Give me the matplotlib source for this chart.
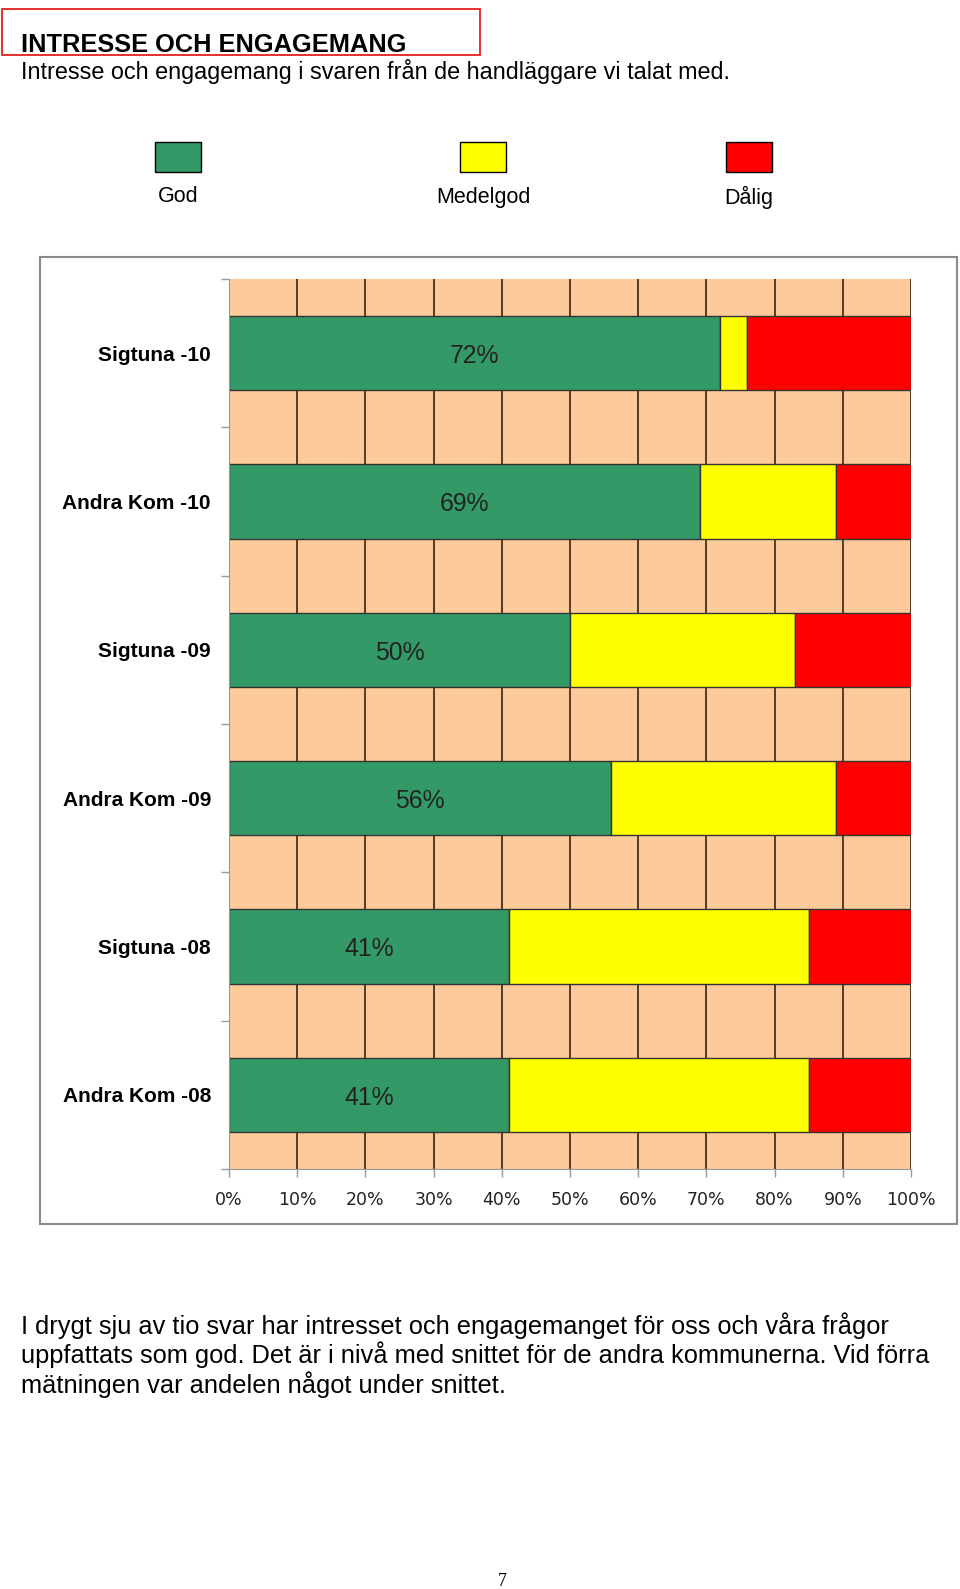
import numpy as np
import matplotlib.pyplot as plt
from matplotlib.patches import Rectangle

# Données du graphique (en %)
kategorier = ['Sigtuna -10', 'Andra Kom -10', 'Sigtuna -09',
              'Andra Kom -09', 'Sigtuna -08', 'Andra Kom -08']
god = [72, 69, 50, 56, 41, 41]
medelgod = [4, 20, 33, 33, 44, 44]
dalig = [24, 11, 17, 11, 15, 15]
serier = ['God', 'Medelgod', 'Dålig']
farger = ['#339966', '#FFFF00', '#FF0000']
xticks = np.arange(0, 101, 10)

W, H = 960, 1589
fig = plt.figure(figsize=(W / 100, H / 100), dpi=100)


def fx(x):
    return x / W


def fy(y):
    return 1 - y / H


sans = ['Liberation Sans', 'DejaVu Sans']
smal = ['Liberation Sans Narrow', 'DejaVu Sans']

# Rubrik
fig.add_artist(Rectangle((fx(2), fy(55)), fx(478), (55 - 9) / H, transform=fig.transFigure,
                         fill=False, edgecolor='#E02020', linewidth=1.3))
fig.text(fx(21), fy(52), 'INTRESSE OCH ENGAGEMANG', family=sans, fontsize=18.3,
         fontweight='bold', va='baseline')
fig.text(fx(21), fy(79), 'Intresse och engagemang i svaren från de handläggare vi talat med.',
         family=sans, fontsize=16.8, va='baseline')

# Förklaring
leg_x = [178, 483, 749]
for namn, farg, cx in zip(serier, farger, leg_x):
    fig.add_artist(Rectangle((fx(cx - 23), fy(172)), 46 / W, 30 / H, transform=fig.transFigure,
                             facecolor=farg, edgecolor='black', linewidth=1))
    fig.text(fx(cx), fy(197), namn, family=sans, fontsize=15.5, ha='center', va='center')

# Ram runt diagrammet
fig.add_artist(Rectangle((fx(40), fy(1224)), 917 / W, (1224 - 257) / H, transform=fig.transFigure,
                         fill=False, edgecolor='#8a8a8a', linewidth=1.5))

# Diagram
ax = fig.add_axes([fx(229), fy(1169), 682 / W, 890 / H])
ax.set_facecolor('#FCCB99')
y = np.arange(len(kategorier))
god = np.array(god)
medelgod = np.array(medelgod)
dalig = np.array(dalig)
for xv in xticks[1:]:
    ax.axvline(xv, color='#4a3020', linewidth=1.3, zorder=1)
ax.barh(y, god, height=0.5, color=farger[0], edgecolor='#333333', linewidth=1, zorder=2)
ax.barh(y, medelgod, left=god, height=0.5, color=farger[1], edgecolor='#333333', linewidth=1, zorder=2)
ax.barh(y, dalig, left=god + medelgod, height=0.5, color=farger[2], edgecolor='#333333', linewidth=1, zorder=2)
for yi, g in zip(y, god):
    ax.text(g / 2, yi + 0.02, f'{g}%', family=sans, fontsize=17.8, color='#222222',
            ha='center', va='center', zorder=3)

ax.set_xlim(0, 100)
ax.set_ylim(len(kategorier) - 0.5, -0.5)
ax.set_xticks(xticks)
ax.set_xticklabels([f'{v}%' for v in xticks], family=smal, fontsize=12.5, color='#222222')
ax.set_yticks(y)
ax.set_yticklabels(kategorier, family=sans, fontsize=15, fontweight='bold')
ax.set_yticks(np.arange(-0.5, len(kategorier)), minor=True)
ax.tick_params(axis='y', which='major', length=0, pad=13)
ax.tick_params(axis='y', which='minor', length=6, color='#999999', width=1)
ax.tick_params(axis='x', length=6, color='#999999', width=1, pad=10)
for s in ['top', 'right']:
    ax.spines[s].set_visible(False)
ax.spines['left'].set_color('#999999')
ax.spines['bottom'].set_color('#999999')

# Brödtext
rader = ['I drygt sju av tio svar har intresset och engagemanget för oss och våra frågor',
         'uppfattats som god. Det är i nivå med snittet för de andra kommunerna. Vid förra',
         'mätningen var andelen något under snittet.']
for i, rad in enumerate(rader):
    fig.text(fx(21), fy(1334 + i * 29.5), rad, family=sans, fontsize=18.3, va='baseline')

fig.text(fx(502), fy(1581), '7', family=['Liberation Serif', 'DejaVu Serif'], fontsize=13,
         ha='center', va='center')

fig.savefig('out.png', dpi=100)
